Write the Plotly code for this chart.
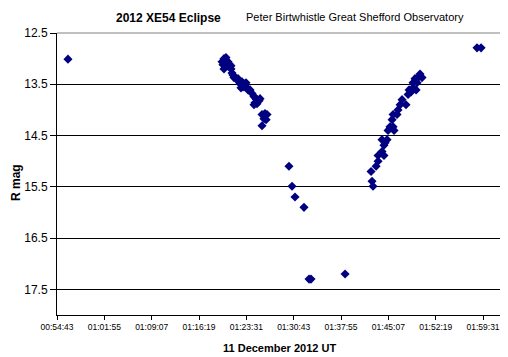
import plotly.graph_objects as go

times = [
    "00:56:23",
    "01:19:49", "01:20:07", "01:20:25", "01:20:44", "01:19:58", "01:20:35", "01:20:53",
    "01:21:11", "01:20:07", "01:21:11", "01:21:20", "01:21:29", "01:21:38", "01:21:57",
    "01:22:15", "01:22:24", "01:22:33", "01:22:51", "01:23:10", "01:23:28", "01:22:42",
    "01:23:01", "01:23:19", "01:23:37", "01:23:46", "01:24:05", "01:24:23", "01:24:41",
    "01:24:59", "01:25:08", "01:25:27", "01:25:36", "01:24:50", "01:24:41", "01:25:08",
    "01:25:54", "01:26:21", "01:26:40", "01:26:12", "01:26:31", "01:25:54",
    "01:30:00", "01:30:28", "01:30:55", "01:32:17", "01:33:03", "01:33:21", "01:38:32",
    "01:42:38", "01:42:47", "01:42:29", "01:43:15", "01:43:33", "01:43:33", "01:44:27",
    "01:44:09", "01:44:27", "01:44:09", "01:44:55", "01:44:37", "01:45:04", "01:45:59",
    "01:45:22", "01:45:50", "01:45:41", "01:45:50", "01:46:26", "01:46:35", "01:46:54",
    "01:47:48", "01:47:12", "01:48:07", "01:48:16", "01:48:52", "01:49:20", "01:48:52",
    "01:49:29", "01:49:10", "01:49:56", "01:50:14", "01:49:38", "01:48:34",
    "01:58:36", "01:59:13",
]
r_mag = [
    13.01,
    13.06, 13.00, 12.98, 13.06, 13.12, 13.14, 13.10,
    13.14, 13.20, 13.20, 13.28, 13.32, 13.37, 13.39,
    13.39, 13.45, 13.49, 13.45, 13.49, 13.47, 13.57,
    13.55, 13.53, 13.57, 13.61, 13.61, 13.68, 13.74,
    13.78, 13.80, 13.82, 13.78, 13.86, 13.90, 13.88,
    14.09, 14.07, 14.09, 14.17, 14.19, 14.31,
    15.10, 15.49, 15.70, 15.90, 17.30, 17.30, 17.20,
    15.39, 15.49, 15.20, 15.10, 15.00, 14.89, 14.89,
    14.81, 14.69, 14.58, 14.58, 14.64, 14.40, 14.40,
    14.33, 14.33, 14.19, 14.09, 14.09, 14.00, 13.90,
    13.90, 13.80, 13.70, 13.61, 13.57, 13.61, 13.47,
    13.47, 13.39, 13.30, 13.37, 13.37, 13.65,
    12.79, 12.79,
]

x_tick_labels = ["00:54:43", "01:01:55", "01:09:07", "01:16:19", "01:23:31",
                 "01:30:43", "01:37:55", "01:45:07", "01:52:19", "01:59:31"]
x_axis_end = "02:02:24"
y_ticks = [12.5, 13.5, 14.5, 15.5, 16.5, 17.5]
y_range = [18.0, 12.5]


def to_sec(s):
    h, m, sec = (int(v) for v in s.split(":"))
    return h * 3600 + m * 60 + sec


xs = [to_sec(t) for t in times]
tickvals = [to_sec(t) for t in x_tick_labels]

FONT = "Liberation Sans, Arial, sans-serif"
NAVY = "#000080"

# page body has an 8px default margin, so the figure is 8px smaller each way
fig = go.Figure()
fig.add_trace(go.Scatter(
    x=xs, y=r_mag, mode="markers",
    marker=dict(symbol="diamond", size=7, color=NAVY, line=dict(width=0)),
    showlegend=False,
))

fig.update_layout(
    width=500, height=349,
    margin=dict(l=49, r=6, t=25, b=42),
    paper_bgcolor="white", plot_bgcolor="white",
    font=dict(family=FONT, color="black"),
    xaxis=dict(
        range=[tickvals[0], to_sec(x_axis_end)],
        tickmode="array", tickvals=tickvals, ticktext=x_tick_labels,
        tickfont=dict(size=8.5, family=FONT, color="black"),
        showgrid=False, zeroline=False,
        showline=True, linecolor="black", linewidth=1,
        ticks="outside", ticklen=4, tickcolor="black", tickwidth=1,
    ),
    yaxis=dict(
        range=y_range,
        tickmode="array", tickvals=y_ticks, ticktext=[f"{v:.1f}" for v in y_ticks],
        tickfont=dict(size=12, family=FONT, color="black"),
        showgrid=True, gridcolor="black", gridwidth=1, zeroline=False,
        showline=True, linecolor="black", linewidth=1,
        ticks="outside", ticklen=6, tickcolor="black", tickwidth=1,
    ),
    shapes=[
        dict(type="line", xref="paper", yref="paper", x0=0, x1=1, y0=1, y1=1,
             line=dict(color="#808080", width=1), layer="above"),
        dict(type="line", xref="paper", yref="paper", x0=1, x1=1, y0=0, y1=1,
             line=dict(color="#808080", width=1), layer="above"),
    ],
    annotations=[
        dict(text="<b>2012 XE54 Eclipse</b>", xref="paper", yref="paper",
             x=(168.5 - 57) / 445, y=1 + (33 - 18) / 282, xanchor="center", yanchor="middle",
             showarrow=False, font=dict(size=12, family=FONT, color="black")),
        dict(text="Peter Birtwhistle Great Shefford Observatory", xref="paper", yref="paper",
             x=(355 - 57) / 445, y=1 + (33 - 17) / 282, xanchor="center", yanchor="middle",
             showarrow=False, font=dict(size=11, family=FONT, color="black")),
        dict(text="<b>11 December 2012 UT</b>", xref="paper", yref="paper",
             x=0.5, y=-(348 - 315) / 282, xanchor="center", yanchor="middle",
             showarrow=False, font=dict(size=11, family=FONT, color="black")),
        dict(text="<b>R mag</b>", xref="paper", yref="paper",
             x=-(57 - 16) / 445, y=(315 - 183) / 282, xanchor="center", yanchor="middle",
             textangle=-90, showarrow=False, font=dict(size=12, family=FONT, color="black")),
    ],
)

fig.write_html("out.html")
